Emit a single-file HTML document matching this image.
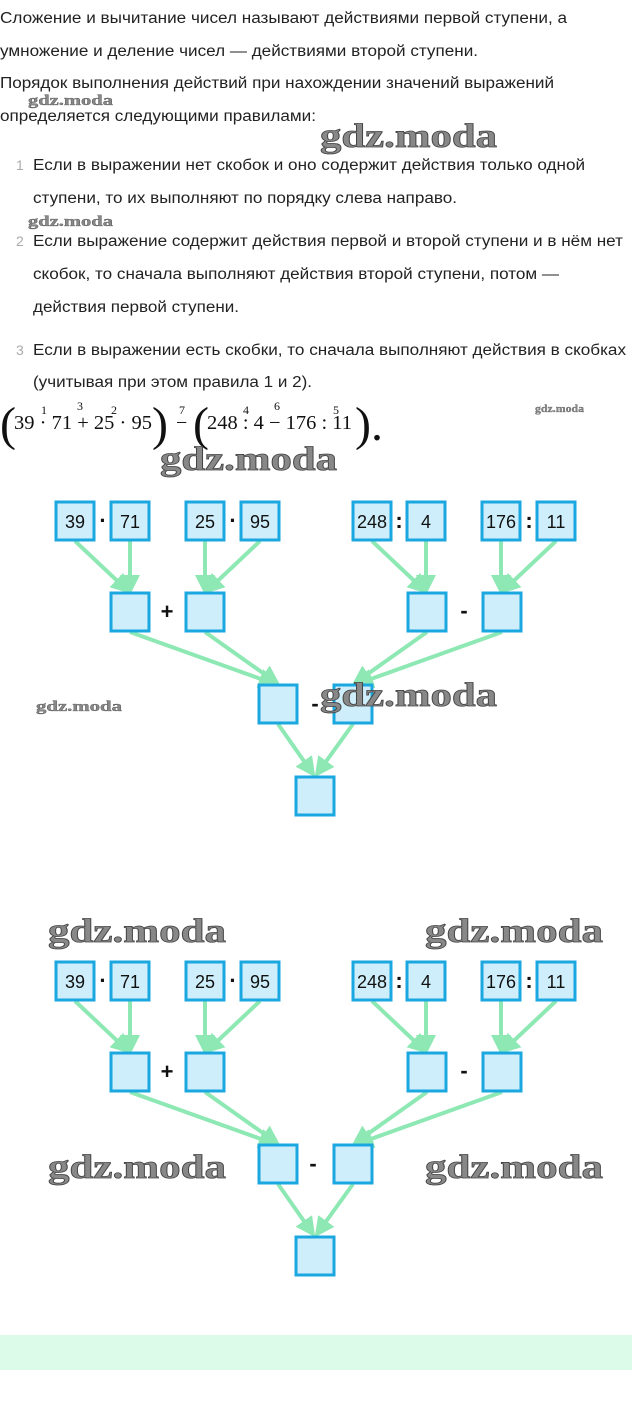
<!DOCTYPE html>
<html><head><meta charset="utf-8"><style>
html,body{margin:0;padding:0;background:#fff;width:632px;height:1405px;overflow:hidden}
svg{display:block}
.t{font-family:"Liberation Sans",sans-serif;font-size:15.5px;fill:#222}
.n{font-family:"Liberation Sans",sans-serif;font-size:14px;fill:#aaa}
.m{font-family:"Liberation Serif",serif;fill:#111}
.w{font-family:"Liberation Serif",serif;font-weight:bold;fill:#888;stroke:#444;stroke-width:0.8}
.b{fill:#cdeefa;stroke:#1ba7e0;stroke-width:3}
.a{stroke:#8ee8b4;stroke-width:4;fill:none;marker-end:url(#ar)}
.bt{font-family:"Liberation Sans",sans-serif;font-size:18px;fill:#111;text-anchor:middle}
.op{font-family:"Liberation Sans",sans-serif;font-size:22px;font-weight:bold;fill:#111;text-anchor:middle}
</style></head><body>
<svg width="632" height="1405" viewBox="0 0 632 1405">
<defs><marker id="ar" markerWidth="5" markerHeight="5" refX="4" refY="2.5" orient="auto" markerUnits="strokeWidth"><path d="M0,0 L5,2.5 L0,5 Z" fill="#8ee8b4"/></marker></defs>
<text class="t" x="0" y="23" textLength="567" lengthAdjust="spacingAndGlyphs">Сложение и вычитание чисел называют действиями первой ступени, а</text>
<text class="t" x="0" y="56" textLength="478" lengthAdjust="spacingAndGlyphs">умножение и деление чисел — действиями второй ступени.</text>
<text class="t" x="0" y="88" textLength="554" lengthAdjust="spacingAndGlyphs">Порядок выполнения действий при нахождении значений выражений</text>
<text class="w" x="28" y="105" textLength="85" lengthAdjust="spacingAndGlyphs" style="font-size:15px;stroke-width:0.3">gdz.moda</text>
<text class="t" x="0" y="121" textLength="316" lengthAdjust="spacingAndGlyphs">определяется следующими правилами:</text>
<text class="w" x="320" y="147" textLength="177" lengthAdjust="spacingAndGlyphs" style="font-size:34px">gdz.moda</text>
<text class="n" x="16" y="170">1</text><text class="t" x="33" y="170" textLength="552" lengthAdjust="spacingAndGlyphs">Если в выражении нет скобок и оно содержит действия только одной</text>
<text class="t" x="33" y="203" textLength="424" lengthAdjust="spacingAndGlyphs">ступени, то их выполняют по порядку слева направо.</text>
<text class="w" x="28" y="226" textLength="85" lengthAdjust="spacingAndGlyphs" style="font-size:15px;stroke-width:0.3">gdz.moda</text>
<text class="n" x="16" y="246">2</text><text class="t" x="33" y="246" textLength="590" lengthAdjust="spacingAndGlyphs">Если выражение содержит действия первой и второй ступени и в нём нет</text>
<text class="t" x="33" y="279" textLength="526" lengthAdjust="spacingAndGlyphs">скобок, то сначала выполняют действия второй ступени, потом —</text>
<text class="t" x="33" y="312" textLength="206" lengthAdjust="spacingAndGlyphs">действия первой ступени.</text>
<text class="n" x="16" y="355">3</text><text class="t" x="33" y="355" textLength="593" lengthAdjust="spacingAndGlyphs">Если в выражении есть скобки, то сначала выполняют действия в скобках</text>
<text class="t" x="33" y="387" textLength="279" lengthAdjust="spacingAndGlyphs">(учитывая при этом правила 1 и 2).</text>
<text class="m" x="0" y="440" style="font-size:48px">(</text>
<text class="m" x="14" y="429" textLength="138" lengthAdjust="spacingAndGlyphs" style="font-size:20px">39 · 71 + 25 · 95</text>
<text class="m" x="41" y="414" style="font-size:12px">1</text>
<text class="m" x="77" y="410" style="font-size:12px">3</text>
<text class="m" x="111" y="414" style="font-size:12px">2</text>
<text class="m" x="152" y="440" style="font-size:48px">)</text>
<text class="m" x="176" y="429" style="font-size:20px">−</text>
<text class="m" x="179" y="414" style="font-size:12px">7</text>
<text class="m" x="193" y="440" style="font-size:48px">(</text>
<text class="m" x="207" y="429" textLength="145" lengthAdjust="spacingAndGlyphs" style="font-size:20px">248 : 4 − 176 : 11</text>
<text class="m" x="243" y="414" style="font-size:12px">4</text>
<text class="m" x="274" y="410" style="font-size:12px">6</text>
<text class="m" x="333" y="414" style="font-size:12px">5</text>
<text class="m" x="355" y="440" style="font-size:48px">).</text>
<text class="w" x="535" y="412" textLength="49" lengthAdjust="spacingAndGlyphs" style="font-size:10px;stroke-width:0.2">gdz.moda</text>
<text class="w" x="160" y="470" textLength="177" lengthAdjust="spacingAndGlyphs" style="font-size:34px">gdz.moda</text>

<g>
<line class="a" x1="75" y1="541" x2="128" y2="591"/><line class="a" x1="130" y1="541" x2="130" y2="591"/>
<line class="a" x1="205" y1="541" x2="205" y2="591"/><line class="a" x1="260" y1="541" x2="207" y2="591"/>
<line class="a" x1="372" y1="541" x2="425" y2="591"/><line class="a" x1="426" y1="541" x2="426" y2="591"/>
<line class="a" x1="501" y1="541" x2="501" y2="591"/><line class="a" x1="556" y1="541" x2="503" y2="591"/>
<line class="a" x1="130" y1="632" x2="275" y2="684"/><line class="a" x1="205" y1="632" x2="277" y2="683"/>
<line class="a" x1="427" y1="632" x2="355" y2="683"/><line class="a" x1="502" y1="632" x2="357" y2="684"/>
<line class="a" x1="278" y1="724" x2="313" y2="774"/><line class="a" x1="353" y1="724" x2="317" y2="774"/>
<rect class="b" x="56" y="502" width="38" height="38"/><rect class="b" x="111" y="502" width="38" height="38"/>
<rect class="b" x="186" y="502" width="38" height="38"/><rect class="b" x="241" y="502" width="38" height="38"/>
<rect class="b" x="353" y="502" width="38" height="38"/><rect class="b" x="407" y="502" width="38" height="38"/>
<rect class="b" x="482" y="502" width="38" height="38"/><rect class="b" x="537" y="502" width="38" height="38"/>
<text class="bt" x="75" y="528">39</text><text class="bt" x="130" y="528">71</text>
<text class="bt" x="205" y="528">25</text><text class="bt" x="260" y="528">95</text>
<text class="bt" x="372" y="528">248</text><text class="bt" x="426" y="528">4</text>
<text class="bt" x="501" y="528">176</text><text class="bt" x="556" y="528">11</text>
<text class="op" x="103" y="528">·</text><text class="op" x="233" y="528">·</text>
<text class="op" x="399" y="528">:</text><text class="op" x="529" y="528">:</text>
<rect class="b" x="111" y="593" width="38" height="38"/><rect class="b" x="186" y="593" width="38" height="38"/>
<rect class="b" x="408" y="593" width="38" height="38"/><rect class="b" x="483" y="593" width="38" height="38"/>
<text class="op" x="167" y="619">+</text><text class="op" x="464" y="618">-</text>
<rect class="b" x="259" y="685" width="38" height="38"/><rect class="b" x="334" y="685" width="38" height="38"/>
<text class="op" x="315" y="711">-</text>
<rect class="b" x="296" y="777" width="38" height="38"/>
</g>
<text class="w" x="320" y="706" textLength="177" lengthAdjust="spacingAndGlyphs" style="font-size:34px">gdz.moda</text>
<text class="w" x="36" y="711" textLength="86" lengthAdjust="spacingAndGlyphs" style="font-size:15px;stroke-width:0.3">gdz.moda</text>

<g transform="translate(0,460)">
<line class="a" x1="75" y1="541" x2="128" y2="591"/><line class="a" x1="130" y1="541" x2="130" y2="591"/>
<line class="a" x1="205" y1="541" x2="205" y2="591"/><line class="a" x1="260" y1="541" x2="207" y2="591"/>
<line class="a" x1="372" y1="541" x2="425" y2="591"/><line class="a" x1="426" y1="541" x2="426" y2="591"/>
<line class="a" x1="501" y1="541" x2="501" y2="591"/><line class="a" x1="556" y1="541" x2="503" y2="591"/>
<line class="a" x1="130" y1="632" x2="275" y2="684"/><line class="a" x1="205" y1="632" x2="277" y2="683"/>
<line class="a" x1="427" y1="632" x2="355" y2="683"/><line class="a" x1="502" y1="632" x2="357" y2="684"/>
<line class="a" x1="278" y1="724" x2="313" y2="774"/><line class="a" x1="353" y1="724" x2="317" y2="774"/>
<rect class="b" x="56" y="502" width="38" height="38"/><rect class="b" x="111" y="502" width="38" height="38"/>
<rect class="b" x="186" y="502" width="38" height="38"/><rect class="b" x="241" y="502" width="38" height="38"/>
<rect class="b" x="353" y="502" width="38" height="38"/><rect class="b" x="407" y="502" width="38" height="38"/>
<rect class="b" x="482" y="502" width="38" height="38"/><rect class="b" x="537" y="502" width="38" height="38"/>
<text class="bt" x="75" y="528">39</text><text class="bt" x="130" y="528">71</text>
<text class="bt" x="205" y="528">25</text><text class="bt" x="260" y="528">95</text>
<text class="bt" x="372" y="528">248</text><text class="bt" x="426" y="528">4</text>
<text class="bt" x="501" y="528">176</text><text class="bt" x="556" y="528">11</text>
<text class="op" x="103" y="528">·</text><text class="op" x="233" y="528">·</text>
<text class="op" x="399" y="528">:</text><text class="op" x="529" y="528">:</text>
<rect class="b" x="111" y="593" width="38" height="38"/><rect class="b" x="186" y="593" width="38" height="38"/>
<rect class="b" x="408" y="593" width="38" height="38"/><rect class="b" x="483" y="593" width="38" height="38"/>
<text class="op" x="167" y="619">+</text><text class="op" x="464" y="618">-</text>
<rect class="b" x="259" y="685" width="38" height="38"/><rect class="b" x="334" y="685" width="38" height="38"/>
<text class="op" x="313" y="711">-</text>
<rect class="b" x="296" y="777" width="38" height="38"/>
</g>
<text class="w" x="48" y="942" textLength="178" lengthAdjust="spacingAndGlyphs" style="font-size:34px">gdz.moda</text>
<text class="w" x="425" y="942" textLength="178" lengthAdjust="spacingAndGlyphs" style="font-size:34px">gdz.moda</text>
<text class="w" x="48" y="1178" textLength="178" lengthAdjust="spacingAndGlyphs" style="font-size:34px">gdz.moda</text>
<text class="w" x="425" y="1178" textLength="178" lengthAdjust="spacingAndGlyphs" style="font-size:34px">gdz.moda</text>
<rect x="0" y="1335" width="632" height="35" fill="#dcfce9"/>
</svg>
</body></html>
